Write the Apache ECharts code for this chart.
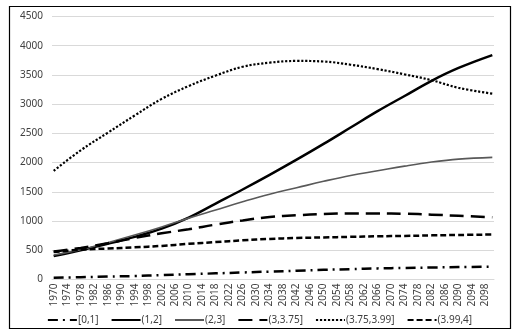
<!DOCTYPE html>
<html>
<head>
<meta charset="utf-8">
<script src="https://cdn.jsdelivr.net/npm/echarts@6/dist/echarts.min.js"></script>
<style>
  html, body { margin: 0; padding: 0; background: #fff; }
  #chart { width: 519px; height: 334px; }
</style>
</head>
<body>
<div id="chart"></div>
<script>
// Yearly category axis, 1970 to 2100
const firstYear = 1970;
const lastYear = 2100;
const years = [];
for (let y = firstYear; y <= lastYear; y++) years.push(String(y));

// Years at which each series value was recorded
const sampleYears = [1970, 1978, 1986, 1994, 2002, 2010, 2018, 2026, 2034,
                     2042, 2050, 2058, 2066, 2074, 2082, 2090, 2100];

const seriesNames = ['[0,1]', '(1,2]', '(2,3]', '(3,3.75]', '(3.75,3.99]', '(3.99,4]'];

const band0to1     = [30, 40, 50, 60, 75, 90, 105, 120, 135, 150, 165, 178, 190, 198, 205, 212, 218];
const band1to2     = [400, 500, 610, 730, 870, 1060, 1300, 1540, 1790, 2050, 2320, 2600, 2880, 3140, 3400, 3620, 3840];
const band2to3     = [420, 510, 630, 760, 900, 1050, 1190, 1330, 1460, 1570, 1680, 1780, 1860, 1940, 2010, 2060, 2090];
const band3to375   = [480, 540, 620, 710, 790, 860, 940, 1010, 1070, 1100, 1120, 1130, 1130, 1125, 1110, 1090, 1065];
const band375to399 = [1860, 2210, 2510, 2806, 3090, 3310, 3489, 3640, 3710, 3740, 3730, 3675, 3600, 3510, 3410, 3280, 3180];
const band399to4   = [470, 510, 530, 550, 575, 610, 640, 670, 695, 710, 720, 730, 740, 745, 755, 762, 770];

const yTicks = { min: 0, max: 4500, step: 500 };

function pairs(values) {
  return values.map((v, i) => [String(sampleYears[i]), v]);
}

function lineSeries(name, values, color, width, dash) {
  return {
    name: name,
    type: 'line',
    data: pairs(values),
    smooth: 0.4,
    symbol: 'none',
    lineStyle: { color: color, width: width, type: dash, cap: 'butt' },
    // marker fill kept transparent so the legend shows only the line sample
    itemStyle: { color: 'rgba(0,0,0,0)', borderWidth: 0 },
    emphasis: { disabled: true }
  };
}

const chart = echarts.init(document.getElementById('chart'), null, { renderer: 'canvas' });

const font = '"Noto Sans", "DejaVu Sans", sans-serif';

chart.setOption({
  animation: false,
  backgroundColor: '#ffffff',
  textStyle: { fontFamily: font },
  grid: { left: 52, right: 25, top: 16.5, bottom: 54.5, containLabel: false },
  xAxis: {
    type: 'category',
    data: years,
    boundaryGap: true,
    axisLine: { lineStyle: { color: '#d9d9d9', width: 1 } },
    axisTick: { show: false },
    axisLabel: {
      interval: 3,
      rotate: 90,
      fontSize: 10,
      color: '#404040',
      margin: 4,
      fontFamily: font
    },
    splitLine: { show: false }
  },
  yAxis: {
    type: 'value',
    min: yTicks.min,
    max: yTicks.max,
    interval: yTicks.step,
    axisLine: { show: false },
    axisTick: { show: false },
    axisLabel: {
      fontSize: 10, color: '#404040', margin: 9, fontFamily: font,
      formatter: (v) => String(v)
    },
    splitLine: { lineStyle: { color: '#d9d9d9', width: 1 } }
  },
  legend: {
    left: 'center',
    top: 310,
    itemWidth: 29,
    itemHeight: 10,
    itemGap: 12,
    itemStyle: { color: 'rgba(0,0,0,0)', borderWidth: 0 },
    textStyle: { fontSize: 10, color: '#404040', fontFamily: font, padding: [0, 0, 0, -4] },
    data: seriesNames
  },
  graphic: [{
    type: 'rect',
    shape: { x: 9.5, y: 6.5, width: 501, height: 322 },
    style: { fill: 'none', stroke: '#000000', lineWidth: 1.2 },
    silent: true
  }],
  series: [
    lineSeries(seriesNames[0], band0to1, '#000000', 2.5, [10, 5, 2, 5]),
    lineSeries(seriesNames[1], band1to2, '#000000', 2.5, 'solid'),
    lineSeries(seriesNames[2], band2to3, '#595959', 1.6, 'solid'),
    lineSeries(seriesNames[3], band3to375, '#000000', 2.5, [14, 7]),
    lineSeries(seriesNames[4], band375to399, '#000000', 2.2, [2.2, 1.8]),
    lineSeries(seriesNames[5], band399to4, '#000000', 2.5, [6, 3])
  ]
});
</script>
</body>
</html>
